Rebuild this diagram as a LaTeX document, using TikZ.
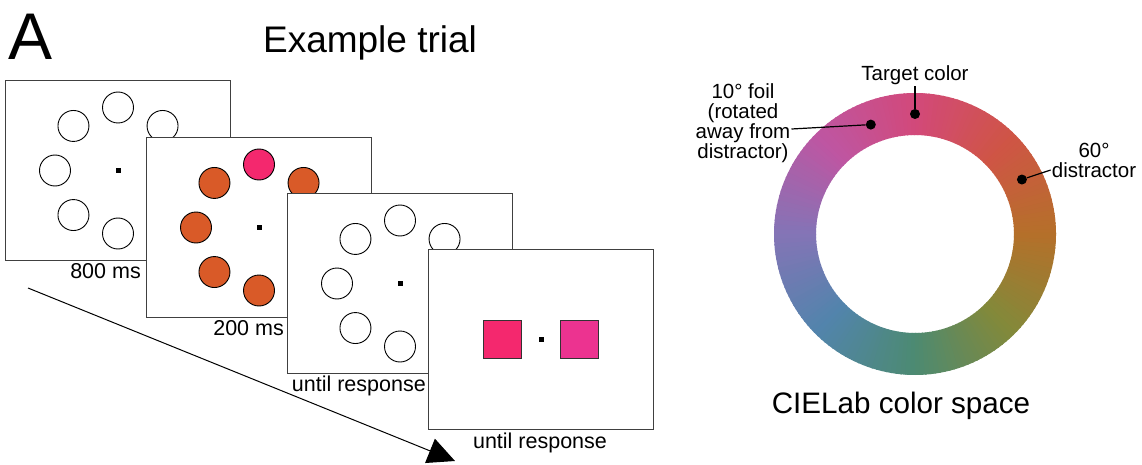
\documentclass[tikz,border=0pt]{standalone}
\usepackage{fontspec}
\setmainfont{Liberation Sans}
\usepackage{xcolor}
\usepackage{tikz}
\usetikzlibrary{positioning, arrows.meta, calc}

\definecolor{frameline}{HTML}{404040}
\definecolor{distorange}{HTML}{D95A28}
\definecolor{targetpink}{HTML}{F4286E}
\definecolor{foilpink}{HTML}{EC3390}
% hue keys round the ring, every 45 degrees
\definecolor{ring0}{HTML}{B5702A}
\definecolor{ring1}{HTML}{CF5545}
\definecolor{ring2}{HTML}{D2497A}
\definecolor{ring3}{HTML}{BE56A2}
\definecolor{ring4}{HTML}{8474B6}
\definecolor{ring5}{HTML}{5284AC}
\definecolor{ring6}{HTML}{4C8A72}
\definecolor{ring7}{HTML}{83893A}
\colorlet{ring8}{ring0}

\begin{document}
\begin{tikzpicture}[x=1pt, y=-1pt,
    screen/.style={draw=frameline, line width=1pt, fill=white, anchor=north west,
        minimum width=225pt, minimum height=180pt, inner sep=0},
    stim/.style={draw=black, line width=0.9pt},
    fix/.style={fill=black, minimum size=5pt, inner sep=0},
    timing/.style={font=\fontsize{21.5}{20}\selectfont, inner sep=0},
    lbl/.style={font=\fontsize{20.5}{20}\selectfont, inner sep=1pt, align=center},
    dot/.style={circle, fill=black, minimum size=10pt, inner sep=0}]
  \useasboundingbox (0,0) rectangle (1142,465);

  \node[font=\fontsize{66}{66}\selectfont, anchor=base west, inner sep=0] (panel) at (8,60) {A};
  \node[font=\fontsize{37}{40}\selectfont, anchor=base, inner sep=0] (title) at (370,53) {Example trial};

  % time axis
  \coordinate (t0) at (28,288);
  \coordinate (t1) at (455,461);
  \draw[line width=1pt, -{Triangle[length=27pt, width=26pt]}] (t0) -- (t1);

  % screen 1: placeholders
  \node[screen] (f1) at (5,80) {};
  \node[fix] at (f1.center) {};
  \foreach \a in {45,90,...,270}
    \draw[stim, fill=white] ($(f1.center)+(-\a:63)$) circle[radius=15.5];

  % screen 2: sample array
  \node[screen] (f2) at (146,137) {};
  \node[fix] at (f2.center) {};
  \foreach \a/\c in {45/distorange, 90/targetpink, 135/distorange, 180/distorange, 225/distorange, 270/distorange}
    \draw[stim, fill=\c] ($(f2.center)+(-\a:63)$) circle[radius=15.5];

  % screen 3: placeholders again
  \node[screen] (f3) at (287,193) {};
  \node[fix] at (f3.center) {};
  \foreach \a in {45,90,...,270}
    \draw[stim, fill=white] ($(f3.center)+(-\a:63)$) circle[radius=15.5];

  % screen 4: 2AFC probe
  \node[screen] (f4) at (428,249) {};
  \node[fix] at (f4.center) {};
  \node[draw=black!80, line width=1pt, fill=targetpink, minimum size=38pt, inner sep=0] (probeL) at ($(f4.center)+(-38.5,0)$) {};
  \node[draw=black!80, line width=1pt, fill=foilpink, minimum size=38pt, inner sep=0] (probeR) at ($(f4.center)+(38.5,0)$) {};

  \node[timing, anchor=base east] (d1) at (141,278) {800 ms};
  \node[timing, anchor=base east] (d2) at (284,335) {200 ms};
  \node[timing, anchor=base east] (d3) at (426,391) {until response};
  \node[timing, anchor=base] (d4) at (540,448) {until response};

  % colour wheel
  \begin{scope}[shift={(915,234)}, y=1pt]
    \foreach \i in {0,...,179} {
      \pgfmathsetmacro\a{2*\i}
      \pgfmathtruncatemacro\k{floor((\a+1)/45)}
      \pgfmathtruncatemacro\kk{\k+1}
      \pgfmathtruncatemacro\p{100-100*(\a+1-45*\k)/45}
      \colorlet{seg}{ring\k!\p!ring\kk}
      \fill[seg] (\a:99) arc[start angle=\a, end angle=\a+2.6, radius=99]
        -- (\a+2.6:141) arc[start angle=\a+2.6, end angle=\a, radius=141] -- cycle;
    }
    \node[dot] (target) at (90:120) {};
    \node[dot] (foil) at (112:118) {};
    \node[dot] (distr) at (27:120) {};
  \end{scope}

  \node[lbl, anchor=base] (targetlbl) at (915,81) {Target color};
  \node[lbl] (foillbl) at (743,123) {10° foil\\(rotated\\away from\\distractor)};
  \node[lbl] (distrlbl) at (1094,160) {60°\\distractor};
  \draw[line width=1.2pt] (target) -- (targetlbl.south);
  \draw[line width=1.2pt] (foil) -- ([yshift=-6pt]foillbl.east);
  \draw[line width=1.2pt] (distr) -- ([yshift=-10pt]distrlbl.west);

  \node[font=\fontsize{29.6}{32}\selectfont, anchor=base, inner sep=0] (space) at (901,413) {CIELab color space};
\end{tikzpicture}
\end{document}
